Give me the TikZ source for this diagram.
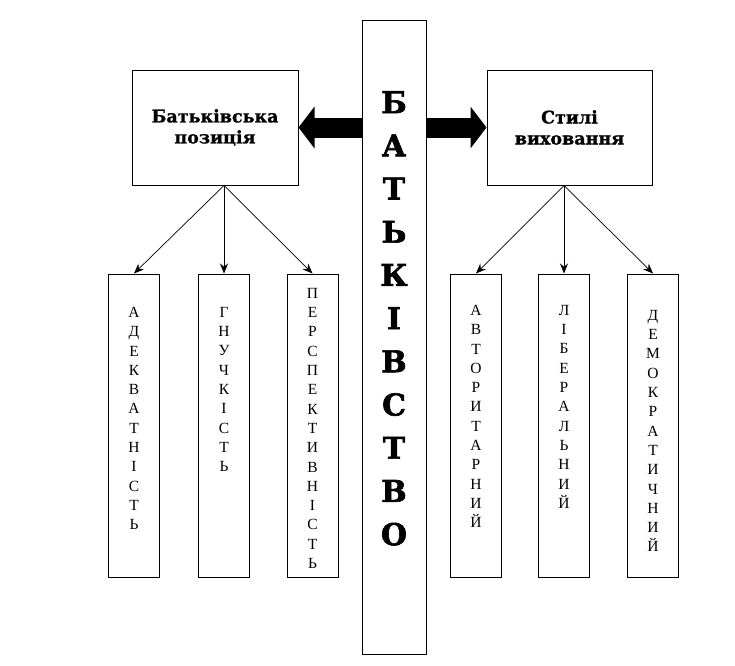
\documentclass[tikz,border=0pt]{standalone}
\usepackage{fontspec}
\setmainfont{Liberation Serif}
\newfontfamily\dejaserif{DejaVu Serif}
\newfontfamily\heavyserif[FakeBold=2]{DejaVu Serif Bold}
\newfontfamily\midserif[FakeBold=1]{DejaVu Serif Bold}
\usetikzlibrary{arrows.meta}
\begin{document}
\begin{tikzpicture}[x=1pt,y=-1pt,
  box/.style={draw, line width=1pt, inner sep=0pt},
  topbox/.style={box, minimum width=166pt, minimum height=115pt, align=center,
    font=\midserif\fontsize{17.5}{21}\selectfont},
  smallbox/.style={box, minimum width=51pt, minimum height=303pt},
  vtext/.style={inner sep=0pt, anchor=north, align=center,
    font=\fontsize{15.5}{19.3}\selectfont},
  ctext/.style={inner sep=0pt, anchor=north, align=center,
    font=\heavyserif\fontsize{30}{43.2}\selectfont},
  conn/.style={line width=0.7pt, -{Stealth[length=10pt,width=8pt]}},
  bigarrow/.style={line width=20pt, -{Triangle[length=16pt,width=41pt]}}
]
\useasboundingbox[fill=white] (0,0) rectangle (735,665);

% central column
\node[box, minimum width=64pt, minimum height=634pt] (c) at (394,337) {};
\node[ctext] (ct) at (394,91) {Б\\А\\Т\\Ь\\К\\І\\В\\С\\Т\\В\\О};

% top boxes
\node[topbox] (lp) at (215,127.5) {Батьківська\\позиція};
\node[topbox, minimum width=165pt] (rs) at (569.5,127.5) {Стилі\\виховання};

% thick arrows
\draw[bigarrow] (c.west |- lp.east) -- (lp.east);
\draw[bigarrow] (c.east |- rs.west) -- (rs.west);

% lower boxes
\node[smallbox] (b1) at (134,425.5) {};
\node[smallbox] (b2) at (224,425.5) {};
\node[smallbox] (b3) at (312.5,425.5) {};
\node[smallbox] (b4) at (476,425.5) {};
\node[smallbox] (b5) at (564,425.5) {};
\node[smallbox] (b6) at (653,425.5) {};

\node[vtext] (t1) at (134,307) {А\\Д\\Е\\К\\В\\А\\Т\\Н\\І\\С\\Т\\Ь};
\node[vtext] (t2) at (224,307) {Г\\Н\\У\\Ч\\К\\І\\С\\Т\\Ь};
\node[vtext] (t3) at (312.5,288) {П\\Е\\Р\\С\\П\\Е\\К\\Т\\И\\В\\Н\\І\\С\\Т\\Ь};
\node[vtext] (t4) at (476,305) {А\\В\\Т\\О\\Р\\И\\Т\\А\\Р\\Н\\И\\Й};
\node[vtext] (t5) at (564,305) {Л\\І\\Б\\Е\\Р\\А\\Л\\Ь\\Н\\И\\Й};
\node[vtext] (t6) at (653,310) {Д\\Е\\М\\О\\К\\Р\\А\\Т\\И\\Ч\\Н\\И\\Й};

% thin arrows
\coordinate (lo) at (b2.north |- lp.south);
\coordinate (ro) at (b5.north |- rs.south);
\draw[conn] (lo) -- (b1.north);
\draw[conn] (lo) -- (b2.north);
\draw[conn] (lo) -- (b3.north);
\draw[conn] (ro) -- (b4.north);
\draw[conn] (ro) -- (b5.north);
\draw[conn] (ro) -- (b6.north);
\end{tikzpicture}
\end{document}
